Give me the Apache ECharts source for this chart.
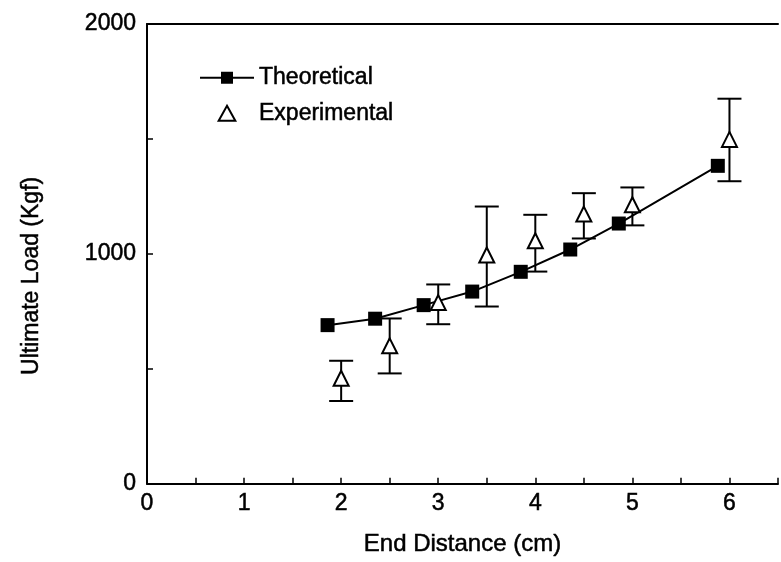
<!DOCTYPE html>
<html>
<head>
<meta charset="utf-8">
<script src="https://cdn.jsdelivr.net/npm/echarts@6/dist/echarts.min.js"></script>
<style>html,body{margin:0;padding:0;background:#fff;}#chart{width:781px;height:562px;}</style>
</head>
<body>
<div id="chart"></div>
<script>
// Data
const theoX = [1.86, 2.35, 2.85, 3.35, 3.85, 4.36, 4.86, 5.88];
const theoY = [690, 718, 777, 836, 922, 1019, 1132, 1383];
const expX = [2, 2.5, 3, 3.5, 4, 4.5, 5, 6];
const expY = [459, 600, 788, 995, 1057, 1173, 1214, 1498];
const expLow = [360, 480, 694, 771, 923, 1067, 1124, 1316];
const expHigh = [535, 719, 867, 1206, 1170, 1264, 1289, 1675];
const xTickLabels = ['0', '1', '2', '3', '4', '5', '6'];
const yTickLabels = ['0', '1000', '2000'];

const FONT = '"Liberation Sans", Arial, sans-serif';
const TXT = {fontFamily: FONT, color: '#000', textBorderColor: '#000', textBorderWidth: 0.5};
const theoData = theoX.map((x, i) => [x, theoY[i]]);
const expData = expX.map((x, i) => [x, expY[i]]);
const errData = expX.map((x, i) => [x, expLow[i], expHigh[i]]);

const chart = echarts.init(document.getElementById('chart'), null, {renderer: 'canvas'});
chart.setOption({
  animation: false,
  backgroundColor: '#fff',
  grid: {left: 147, top: 24, right: -8, bottom: 78},
  legend: {
    orient: 'vertical',
    left: 194,
    top: 61,
    itemWidth: 54,
    itemHeight: 15,
    itemGap: 12,
    symbolKeepAspect: true,
    textStyle: Object.assign({fontSize: 23}, TXT),
    data: [
      {name: 'Theoretical'},
      {name: 'Experimental', icon: 'path://M5,0 L10,9 L0,9 Z'}
    ]
  },
  xAxis: [{
    type: 'value', min: 0, max: 6.5, interval: 0.5,
    name: 'End Distance (cm)', nameLocation: 'middle', nameGap: 49,
    nameTextStyle: Object.assign({fontSize: 24}, TXT),
    axisLine: {show: true, onZero: false, lineStyle: {color: '#000', width: 2}},
    axisTick: {show: true, inside: true, length: 6, lineStyle: {color: '#000', width: 1.5}},
    axisLabel: Object.assign({
      fontSize: 23, margin: 8,
      formatter: v => (Number.isInteger(v) ? xTickLabels[v] : '')
    }, TXT),
    splitLine: {show: false}
  }, {
    type: 'value', position: 'top', min: 0, max: 6.5,
    axisLine: {show: true, onZero: false, lineStyle: {color: '#000', width: 2}},
    axisTick: {show: false}, axisLabel: {show: false}, splitLine: {show: false}
  }],
  yAxis: {
    type: 'value', min: 0, max: 2000, interval: 500,
    name: 'Ultimate Load (Kgf)', nameLocation: 'middle', nameGap: 104,
    nameTextStyle: Object.assign({fontSize: 23, padding: [0, 44, 0, 0]}, TXT),
    axisLine: {show: true, onZero: false, lineStyle: {color: '#000', width: 2}},
    axisTick: {show: true, inside: true, length: 6, lineStyle: {color: '#000', width: 1.5}},
    axisLabel: Object.assign({
      fontSize: 23, margin: 11,
      formatter: v => (v % 1000 === 0 ? yTickLabels[v / 1000] : '')
    }, TXT),
    splitLine: {show: false}
  },
  series: [
    {
      name: 'Theoretical', type: 'line', data: theoData,
      symbol: 'rect', symbolSize: 14,
      itemStyle: {color: '#000', opacity: 1},
      lineStyle: {color: '#000', width: 2},
      z: 3
    },
    {
      name: 'errbars', type: 'custom', data: errData,
      renderItem: function (params, api) {
        const x = api.value(0);
        const lo = api.coord([x, api.value(1)]);
        const hi = api.coord([x, api.value(2)]);
        const hw = 12;
        const st = {stroke: '#000', lineWidth: 2};
        return {
          type: 'group',
          children: [
            {type: 'line', shape: {x1: lo[0], y1: lo[1], x2: hi[0], y2: hi[1]}, style: st},
            {type: 'line', shape: {x1: lo[0] - hw, y1: lo[1], x2: lo[0] + hw, y2: lo[1]}, style: st},
            {type: 'line', shape: {x1: hi[0] - hw, y1: hi[1], x2: hi[0] + hw, y2: hi[1]}, style: st}
          ]
        };
      },
      z: 2
    },
    {
      name: 'Experimental', type: 'scatter', data: expData,
      symbol: 'triangle', symbolSize: [15, 15],
      itemStyle: {color: '#fff', borderColor: '#000', borderWidth: 2, opacity: 1},
      z: 4
    }
  ]
});
</script>
</body>
</html>
